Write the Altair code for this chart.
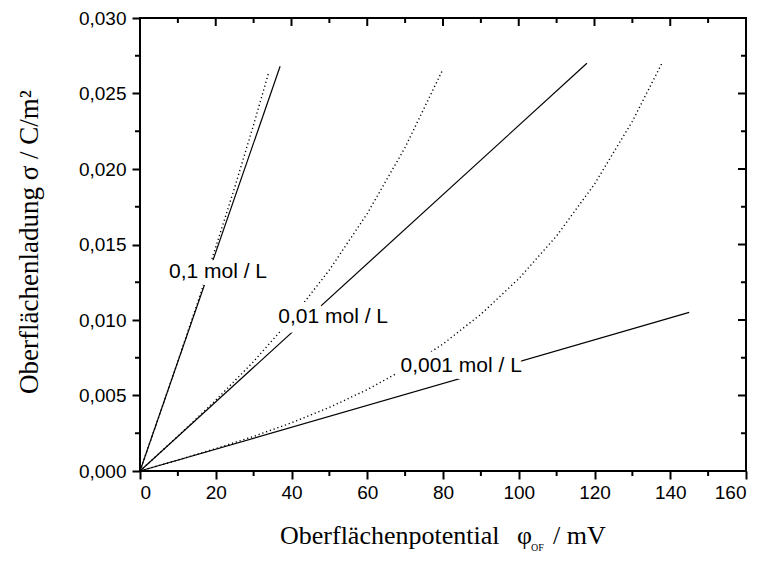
import altair as alt
import pandas as pd

# Surface charge density sigma (C/m^2) versus surface potential phi_OF (mV)
# for three electrolyte concentrations.

# Linear approximation (solid lines)
lin_c1_phi = [0, 37]
lin_c1_sigma = [0.0, 0.0268]
lin_c2_phi = [0, 118]
lin_c2_sigma = [0.0, 0.0270]
lin_c3_phi = [0, 145]
lin_c3_sigma = [0.0, 0.0105]

# Full Gouy-Chapman curves (dotted lines)
gc_c1_phi = [0, 5, 10, 15, 20, 25, 30, 34]
gc_c1_sigma = [0.0, 0.00362, 0.00727, 0.01099, 0.01482, 0.01878, 0.02293, 0.02641]
gc_c2_phi = [0, 10, 20, 30, 40, 50, 60, 70, 80]
gc_c2_sigma = [0.0, 0.00230, 0.00469, 0.00725, 0.01009, 0.01331, 0.01705, 0.02143, 0.02661]
gc_c3_phi = [0, 10, 20, 30, 40, 50, 60, 70, 80, 90, 100, 110, 120, 130, 138]
gc_c3_sigma = [0.0, 0.000727, 0.001482, 0.002293, 0.00319, 0.00421, 0.00539, 0.00677,
               0.00841, 0.01038, 0.01273, 0.01557, 0.0190, 0.02316, 0.0271]

# Concentration labels
label_text = ["0,1 mol / L", "0,01 mol / L", "0,001 mol / L"]
label_phi = [20.6, 51.0, 84.8]
label_sigma = [0.0132, 0.01023, 0.00696]

# Axis ticks
x_major = [0, 20, 40, 60, 80, 100, 120, 140, 160]
x_minor = [10, 30, 50, 70, 90, 110, 130, 150]
y_major = [0.0, 0.005, 0.010, 0.015, 0.020, 0.025, 0.030]
y_minor = [0.0025, 0.0075, 0.0125, 0.0175, 0.0225, 0.0275]

# Axis title pieces
x_title_main = ["Oberflächenpotential"]
x_title_phi = ["φ"]
x_title_sub = ["OF"]
x_title_unit = ["/ mV"]
y_title = ["Oberflächenladung σ / C/m²"]

W, H = 606, 453


def series(name, xs, ys):
    return pd.DataFrame({"phi": xs, "sigma": ys, "series": name})


lin_df = pd.concat([
    series("c1", lin_c1_phi, lin_c1_sigma),
    series("c2", lin_c2_phi, lin_c2_sigma),
    series("c3", lin_c3_phi, lin_c3_sigma),
])
gc_df = pd.concat([
    series("c1", gc_c1_phi, gc_c1_sigma),
    series("c2", gc_c2_phi, gc_c2_sigma),
    series("c3", gc_c3_phi, gc_c3_sigma),
])
labels_df = pd.DataFrame({"phi": label_phi, "sigma": label_sigma, "text": label_text})

x_scale = alt.Scale(domain=[0, 160], nice=False, zero=False)
y_scale = alt.Scale(domain=[0, 0.030], nice=False, zero=False)

x_axis = alt.Axis(values=x_major, tickSize=8, tickWidth=2, tickColor="black",
                  domain=False, grid=False, labelFont="Liberation Sans",
                  labelFontSize=19, labelColor="black", labelPadding=4,
                  labelExpr="format(datum.value, 'd')", title=None)
y_axis = alt.Axis(values=y_major, tickSize=8, tickWidth=2, tickColor="black",
                  domain=False, grid=False, labelFont="Liberation Sans",
                  labelFontSize=19, labelColor="black", labelPadding=6,
                  labelExpr="replace(format(datum.value, '.3f'), '.', ',')",
                  title=None)

solid = alt.Chart(lin_df).mark_line(color="black", strokeWidth=1.2).encode(
    x=alt.X("phi:Q", scale=x_scale, axis=x_axis),
    y=alt.Y("sigma:Q", scale=y_scale, axis=y_axis),
    detail="series:N",
)

dotted = alt.Chart(gc_df).mark_line(color="black", strokeWidth=1.4,
                                    strokeDash=[1.2, 2.8]).encode(
    x=alt.X("phi:Q", scale=x_scale),
    y=alt.Y("sigma:Q", scale=y_scale),
    detail="series:N",
)

label_halo = alt.Chart(labels_df).mark_text(
    font="Liberation Sans", fontSize=21, stroke="white", strokeWidth=14,
    strokeJoin="round", fill="white", align="center", baseline="middle",
).encode(x=alt.X("phi:Q", scale=x_scale), y=alt.Y("sigma:Q", scale=y_scale),
         text="text:N")

label_txt = alt.Chart(labels_df).mark_text(
    font="Liberation Sans", fontSize=21, color="black",
    align="center", baseline="middle",
).encode(x=alt.X("phi:Q", scale=x_scale), y=alt.Y("sigma:Q", scale=y_scale),
         text="text:N")

xmaj_df = pd.DataFrame({"v": x_major})
xmin_df = pd.DataFrame({"v": x_minor})
ymaj_df = pd.DataFrame({"v": y_major})
ymin_df = pd.DataFrame({"v": y_minor})

tick_style = dict(color="black", strokeWidth=2)

# minor ticks on bottom / left (outward)
bottom_minor = alt.Chart(xmin_df).mark_rule(**tick_style).encode(
    x=alt.X("v:Q", scale=x_scale), y=alt.value(H), y2=alt.value(H + 5))
left_minor = alt.Chart(ymin_df).mark_rule(**tick_style).encode(
    y=alt.Y("v:Q", scale=y_scale), x=alt.value(0), x2=alt.value(-5))

# mirrored ticks on top / right (inward)
top_major = alt.Chart(xmaj_df).mark_rule(**tick_style).encode(
    x=alt.X("v:Q", scale=x_scale), y=alt.value(0), y2=alt.value(8))
top_minor = alt.Chart(xmin_df).mark_rule(**tick_style).encode(
    x=alt.X("v:Q", scale=x_scale), y=alt.value(0), y2=alt.value(5))
right_major = alt.Chart(ymaj_df).mark_rule(**tick_style).encode(
    y=alt.Y("v:Q", scale=y_scale), x=alt.value(W), x2=alt.value(W - 8))
right_minor = alt.Chart(ymin_df).mark_rule(**tick_style).encode(
    y=alt.Y("v:Q", scale=y_scale), x=alt.value(W), x2=alt.value(W - 5))

# axis titles
serif = "Liberation Serif"
xt_main = alt.Chart(pd.DataFrame({"t": x_title_main})).mark_text(
    font=serif, fontSize=26, align="left", baseline="alphabetic", color="black"
).encode(text="t:N", x=alt.value(140), y=alt.value(526))
xt_phi = alt.Chart(pd.DataFrame({"t": x_title_phi})).mark_text(
    font=serif, fontSize=26, align="left", baseline="alphabetic", color="black"
).encode(text="t:N", x=alt.value(377), y=alt.value(526))
xt_sub = alt.Chart(pd.DataFrame({"t": x_title_sub})).mark_text(
    font=serif, fontSize=10, align="left", baseline="alphabetic", color="black"
).encode(text="t:N", x=alt.value(391), y=alt.value(533))
xt_unit = alt.Chart(pd.DataFrame({"t": x_title_unit})).mark_text(
    font=serif, fontSize=26, align="left", baseline="alphabetic", color="black"
).encode(text="t:N", x=alt.value(413), y=alt.value(526))
yt = alt.Chart(pd.DataFrame({"t": y_title})).mark_text(
    font=serif, fontSize=27, align="center", baseline="middle", angle=270,
    color="black"
).encode(text="t:N", x=alt.value(-110), y=alt.value(224))

chart = alt.layer(
    solid, dotted, label_halo, label_txt,
    bottom_minor, left_minor, top_major, top_minor, right_major, right_minor,
    xt_main, xt_phi, xt_sub, xt_unit, yt,
).properties(
    width=W, height=H,
    autosize=alt.AutoSizeParams(type="none"),
    padding={"left": 140, "top": 18, "right": 17, "bottom": 92},
    background="white",
).configure_view(stroke="black", strokeWidth=2)

chart.save("out.html", embed_options={"renderer": "svg", "actions": False})
